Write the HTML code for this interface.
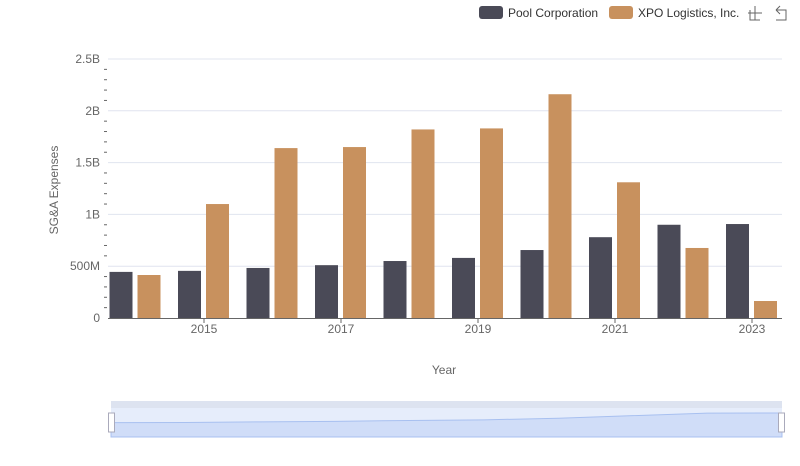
<!DOCTYPE html>
<html><head><meta charset="utf-8"><style>
body{margin:0;background:#fff;font-family:"Liberation Sans",sans-serif;}
svg text{font-family:"Liberation Sans",sans-serif;}
</style></head><body>
<svg width="800" height="461" viewBox="0 0 800 461">
<g id="grid"></g>
<g id="yaxis"></g>
<g id="bars"></g>
<g id="xaxis"></g>
<text x="58" y="190" transform="rotate(-90 58 190)" text-anchor="middle" font-size="12" fill="#666">SG&amp;A Expenses</text>
<text x="444" y="374" text-anchor="middle" font-size="12" fill="#666">Year</text>
<g>
<rect x="479" y="6" width="24" height="13" rx="3" fill="#4a4a57"/>
<text x="508" y="17" font-size="12" fill="#333">Pool Corporation</text>
<rect x="609" y="6" width="24" height="13" rx="3" fill="#c8915e"/>
<text x="638" y="17" font-size="12" fill="#333">XPO Logistics, Inc.</text>
</g>
<g stroke="#666" fill="none" stroke-width="1">
<path d="M748 13h14M755 6v14M750 10v10h10"/>
<path d="M776 10l4-4M776 10l4 4M776 10h10v10h-10"/>
</g>
<g>
<rect x="111" y="401" width="671" height="7" fill="#dde3f0"/>
<rect x="111" y="408" width="671" height="29" fill="#e6edfb"/>
<path id="zoomArea" fill="#d0ddf8" stroke="#a8c0f0" stroke-width="1"/>
<rect x="108.5" y="413" width="6" height="19" fill="#fff" stroke="#aab"/>
<rect x="778.5" y="413" width="6" height="19" fill="#fff" stroke="#aab"/>
</g>
</svg>
<script>
const years=[2014,2015,2016,2017,2018,2019,2020,2021,2022,2023];
const poolValues=[0.445,0.455,0.483,0.51,0.55,0.58,0.656,0.78,0.9,0.907];
const xpoValues=[0.415,1.10,1.64,1.65,1.82,1.83,2.16,1.31,0.676,0.164];
const yTicks=[0,0.5,1,1.5,2,2.5];
const yTickLabels=["0","500M","1B","1.5B","2B","2.5B"];
const xTickYears=[2015,2017,2019,2021,2023];
const NS="http://www.w3.org/2000/svg";
const x=y=>135.5+(y-2014)*68.5;
const yS=v=>318-v/2.5*259;
function mk(tag,attrs,parent,txt){const e=document.createElementNS(NS,tag);for(const k in attrs)e.setAttribute(k,attrs[k]);if(txt!=null)e.textContent=txt;parent.appendChild(e);return e;}
const grid=document.getElementById('grid'),ya=document.getElementById('yaxis'),bars=document.getElementById('bars'),xa=document.getElementById('xaxis');
yTicks.forEach((t,i)=>{
 if(t>0){const l=mk('line',{x1:108,x2:782,y1:yS(t),y2:yS(t),stroke:'#e0e4ef'},grid);
 
 }
 const tx=mk('text',{x:100,y:yS(t)+4,'text-anchor':'end','font-size':12,fill:'#666'},ya,yTickLabels[i]);
 
 
});
for(let v=0.1;v<2.5;v+=0.1){if(Math.abs(v*2-Math.round(v*2))<1e-6)continue;
 const m=mk('line',{x1:104,x2:107,y1:yS(v),y2:yS(v),stroke:'#666'},ya);
 
 }
years.forEach((yr,i)=>{
 const c=x(yr);
 const b1=mk('rect',{x:c-26,y:yS(poolValues[i]),width:23,height:318-yS(poolValues[i]),fill:'#4a4a57'},bars);
 
 
 const b2=mk('rect',{x:c+2,y:yS(xpoValues[i]),width:23,height:318-yS(xpoValues[i]),fill:'#c8915e'},bars);
 
 
});
const ax=mk('line',{x1:108,x2:782,y1:318.5,y2:318.5,stroke:'#666'},xa);


xTickYears.forEach(yr=>{
 const tk=mk('line',{x1:x(yr),x2:x(yr),y1:318,y2:323,stroke:'#666'},xa);
 
 
 const t=mk('text',{x:x(yr),y:333,'text-anchor':'middle','font-size':12,fill:'#666'},xa,String(yr));
 
 
});
// slider preview
const sx=i=>111+i*(671/(years.length-1));
const maxV=Math.max(...poolValues);
let d='M111 437';
poolValues.forEach((v,i)=>{d+=' L'+sx(i)+' '+(432-v/maxV*19);});
d+=' L782 437 Z';
document.getElementById('zoomArea').setAttribute('d',d);
</script>
</body></html>
